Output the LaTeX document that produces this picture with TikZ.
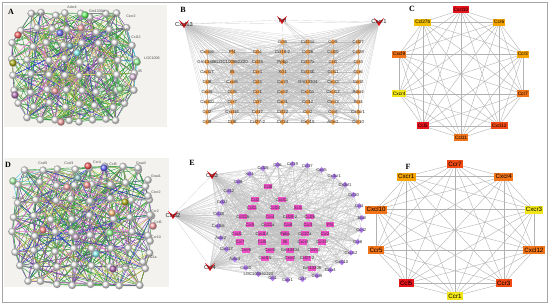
\documentclass[tikz,border=0pt]{standalone}
\usepackage{fontspec}
\setmainfont{Liberation Serif}
\newfontfamily\sansf{Liberation Sans}
\usetikzlibrary{shapes.geometric}

\pgfdeclarelayer{back}
\pgfdeclarelayer{edges}
\pgfsetlayers{back,edges,main}

\definecolor{strbg}{HTML}{F3F2EE}
\definecolor{sgreenc}{HTML}{2E9A3A}
\definecolor{spurplec}{HTML}{7A3CA8}
\definecolor{solivec}{HTML}{A8A83A}
\definecolor{spinkc}{HTML}{E27BC8}
\definecolor{sbluec}{HTML}{2838C8}
\definecolor{scyanc}{HTML}{46C8E6}
\definecolor{syellowc}{HTML}{E2E06A}
\definecolor{bnodec}{HTML}{F7A552}
\definecolor{epurple}{HTML}{B27CF2}
\definecolor{epink}{HTML}{F04FC8}
\definecolor{hubred}{HTML}{E0161E}
\definecolor{kred}{HTML}{E8141C}
\definecolor{kredor}{HTML}{F04A12}
\definecolor{korange}{HTML}{F27418}
\definecolor{kamber}{HTML}{F5A300}
\definecolor{kgold}{HTML}{F2BE00}
\definecolor{kyellow}{HTML}{F2E61A}

\tikzset{
  plet/.style={font=\bfseries\fontsize{8}{9}\selectfont, inner sep=0pt},
  sball/.style={circle, draw=gray!60, line width=0.2pt, ball color=#1, minimum size=7.5pt, inner sep=0pt},
  sball/.default={gray!6},
  slbl/.style={font=\sansf\fontsize{3.6}{4}\selectfont, text=black!70, inner sep=0pt},
  sgreen/.style={draw=sgreenc, line width=0.4pt},
  spurple/.style={draw=spurplec, line width=0.4pt},
  solive/.style={draw=solivec, line width=0.4pt},
  spink/.style={draw=spinkc, line width=0.4pt},
  sblue/.style={draw=sbluec, line width=0.4pt},
  scyan/.style={draw=scyanc, line width=0.4pt},
  syellow/.style={draw=syellowc, line width=0.4pt},
  hub/.style={rectangle, minimum width=10pt, minimum height=8pt, inner sep=0pt},
  hubtext/.style={font=\sansf\fontsize{5.8}{6}\selectfont, inner sep=0pt, text=black!85},
  bnode/.style={diamond, fill=bnodec, minimum size=6pt, inner sep=0pt},
  btext/.style={font=\sansf\fontsize{4.4}{5}\selectfont, inner sep=0pt, text=black!80},
  bedge/.style={draw=gray!50, line width=0.14pt},
  eouter/.style={diamond, fill=epurple, minimum size=6pt, inner sep=0pt},
  einner/.style={rectangle, fill=epink, minimum width=8pt, minimum height=5pt, inner sep=0pt},
  etext/.style={font=\sansf\fontsize{4.2}{5}\selectfont, inner sep=0pt, text=black!80},
  kbox/.style={rectangle, inner xsep=1pt, inner ysep=0.9pt, minimum height=7pt, text=black, font=\sansf\fontsize{4.8}{5}\selectfont},
  kboxF/.style={rectangle, inner xsep=1.2pt, inner ysep=1pt, minimum height=8pt, text=black, font=\sansf\fontsize{6.2}{7}\selectfont},
  kedge/.style={draw=gray!60, line width=0.4pt},
}

\begin{document}
\begin{tikzpicture}[x=1pt,y=-1pt]
\useasboundingbox (0,0) rectangle (550,305);
\draw[gray!70,line width=0.9pt] (2.5,2.5) rectangle (547.5,302);

\begin{pgfonlayer}{back}
\fill[strbg] (4,5) rectangle (167,127);
\fill[strbg] (4,158) rectangle (169,287);
\end{pgfonlayer}

% panel letters
\node[plet] (pA) at (11,12) {A};
\node[plet] (pB) at (183,10) {B};
\node[plet] (pC) at (412,9) {C};
\node[plet] (pD) at (8,165) {D};
\node[plet] (pE) at (192,163) {E};
\node[plet] (pF) at (408,167) {F};

%%%%%%%%%% A : string network
\pgfmathsetseed{17}
\foreach \r in {0,...,7}
  \foreach \c in {0,...,7}{
    \pgfmathsetmacro\px{73+(\c-3.5)*17.5*sqrt(1-((\r-3.5)/5)^2)+2.5*rand}
    \pgfmathsetmacro\py{15+\r*15+2.5*rand}
    \node[sball] (a-\r-\c) at (\px,\py) {};
  }
\foreach \x/\y/\col [count=\k] in {18/35/red!60,60/33/blue!55,85/15/green!60,70/46/teal!50,
    77/53/cyan!45,13/63/olive!60,15/95/violet!55,55/91/red!35,81/28/red!30,
    120/89/green!35,137/62/green!40,133/77/violet!25,61/122/red!35}
  \node[sball=\col] (ac\k) at (\x,\y) {};
\foreach \x/\y/\lab [count=\k] in {72/7/Ackr4,97/11/Gm13304,39/14/Cxcl10,113/16/Ccl8,
    131/16/Cxcr2,122/29/Ccl21a,136/37/Ccl12,125/52/Ccl7,152/58/LOC1008,140/71/Il5,
    124/86/Ccl28,119/101/Cxcl14,25/89/Gm13306,69/117/Ccl27-2}
  \node[slbl] (al\k) at (\x,\y) {\lab};

\begin{pgfonlayer}{edges}
\foreach \r in {0,...,7}
  \foreach \c in {0,...,7}{
    \pgfmathtruncatemacro\rn{\r+1}
    \pgfmathtruncatemacro\rnn{\r+2}
    \pgfmathtruncatemacro\cn{\c+1}
    \pgfmathtruncatemacro\cp{\c-1}
    \ifnum\c<7 \draw[sgreen] (a-\r-\c.center) -- (a-\r-\cn.center); \fi
    \ifnum\r<7
      \draw[spurple] (a-\r-\c.center) -- (a-\rn-\c.center);
      \ifnum\c<7 \draw[solive] (a-\r-\c.center) -- (a-\rn-\cn.center); \fi
      \ifnum\c>0 \draw[sgreen] (a-\r-\c.center) -- (a-\rn-\cp.center); \fi
    \fi
    \ifnum\r<6
      \draw[sgreen] (a-\r-\c.center) -- (a-\rnn-\c.center);
      \ifnum\c<7 \draw[sgreen] (a-\r-\c.center) -- (a-\rnn-\cn.center); \fi
    \fi
  }
\foreach \sty/\num in {sgreen/150,spurple/50,spink/35,solive/30,sblue/14,syellow/15}
  \foreach \k in {1,...,\num}{
    \pgfmathtruncatemacro\ra{random(0,7)}
    \pgfmathtruncatemacro\ca{random(0,7)}
    \pgfmathtruncatemacro\rb{random(0,7)}
    \pgfmathtruncatemacro\cb{random(0,7)}
    \draw[\sty] (a-\ra-\ca.center) -- (a-\rb-\cb.center);
  }
\foreach \n in {a-1-7,a-2-7,a-3-7,a-4-7,a-5-7,a-3-6,a-2-6}
  \draw[scyan] (ac11.center) -- (\n.center);
\foreach \n in {a-3-7,a-4-7,a-5-7,a-6-6}
  \draw[syellow] (ac12.center) -- (\n.center);
\end{pgfonlayer}

%%%%%%%%%% D : string network
\pgfmathsetseed{29}
\foreach \r in {0,...,7}
  \foreach \c in {0,...,7}{
    \pgfmathsetmacro\px{82+(\c-3.5)*19.5*sqrt(1-((\r-3.5)/6)^2)+2.5*rand}
    \pgfmathsetmacro\py{168+\r*16.5+2.5*rand}
    \node[sball] (d-\r-\c) at (\px,\py) {};
  }
\foreach \x/\y/\col [count=\k] in {88/166/red!65,104/168/blue!60,13/181/green!30,78/178/teal!40,
    87/185/red!40,67/187/red!30,125/202/olive!60,112/213/orange!50,43/230/red!45,
    110/233/green!40,76/237/violet!30,96/254/cyan!45,113/269/violet!60,153/226/red!35}
  \node[sball=\col] (dc\k) at (\x,\y) {};
\foreach \x/\y [count=\k] in {138/168,148/180,148/196,150/215,150/241,143/262}
  \node[sball] (dx\k) at (\x,\y) {};
\foreach \x/\y/\lab [count=\k] in {43/163/Cxcl5,69/163/Cxcl3,97/162/Ccr4,113/164/Ccl8,
    141/163/Gnai3,156/176/Gnai1,156/192/Cxcr2,155/211/Ccr2,158/222/Ccl6,156/237/Ccr10,
    151/257/Ccl21a,29/177/LOC1008,18/198/Cxcl11,121/266/Gm13304,131/275/Ackr4}
  \node[slbl] (dl\k) at (\x,\y) {\lab};

\begin{pgfonlayer}{edges}
\foreach \r in {0,...,7}
  \foreach \c in {0,...,7}{
    \pgfmathtruncatemacro\rn{\r+1}
    \pgfmathtruncatemacro\rnn{\r+2}
    \pgfmathtruncatemacro\cn{\c+1}
    \pgfmathtruncatemacro\cp{\c-1}
    \ifnum\c<7 \draw[sgreen] (d-\r-\c.center) -- (d-\r-\cn.center); \fi
    \ifnum\r<7
      \draw[spurple] (d-\r-\c.center) -- (d-\rn-\c.center);
      \ifnum\c<7 \draw[sgreen] (d-\r-\c.center) -- (d-\rn-\cn.center); \fi
      \ifnum\c>0 \draw[solive] (d-\r-\c.center) -- (d-\rn-\cp.center); \fi
    \fi
    \ifnum\r<6
      \draw[sgreen] (d-\r-\c.center) -- (d-\rnn-\c.center);
      \ifnum\c>0 \draw[spurple] (d-\r-\c.center) -- (d-\rnn-\cp.center); \fi
    \fi
  }
\foreach \sty/\num in {sgreen/160,spurple/55,spink/35,solive/25,sblue/18,syellow/12}
  \foreach \k in {1,...,\num}{
    \pgfmathtruncatemacro\ra{random(0,7)}
    \pgfmathtruncatemacro\ca{random(0,7)}
    \pgfmathtruncatemacro\rb{random(0,7)}
    \pgfmathtruncatemacro\cb{random(0,7)}
    \draw[\sty] (d-\ra-\ca.center) -- (d-\rb-\cb.center);
  }
\foreach \n in {d-0-0,d-1-0,d-0-1,d-1-1,d-2-0,d-2-1}
  \draw[scyan] (dc3.center) -- (\n.center);
\foreach \k/\r in {1/0,2/1,3/1,4/3,5/4,6/5}{
  \draw[spurple] (dx\k.center) -- (d-\r-7.center);
  \draw[sblue] (dx\k.center) -- (d-\r-6.center);
  \draw[sgreen] (dx\k.center) -- (d-\r-5.center);
}
\end{pgfonlayer}

%%%%%%%%%% B : hub network
\node[hub, label={[hubtext]center:Cxcl13}] (bh1) at (184,24) {};
\node[hub, label={[hubtext]center:Tnf}] (bh2) at (282,20) {};
\node[hub, label={[hubtext]center:Cxcr1}] (bh3) at (379,22) {};
\foreach \lab [count=\k] in {Ccl5,Ccl21a,Ccr9,Ccl27}
  \node[bnode, label={[btext]center:\lab}] (b\k) at ({207+25.2*(\k+2)},42) {};
\foreach \r/\row in {
    1/{Cxcl16,Pf4,Ccl4,Ccl19-2,Ccl26,Ccl20,Ccl28},
    2/{Gm13306,LOC100862220,Ccl25,Ppbp,Ccl27a,Ccl1,Ccr3},
    3/{Cxcl17,Il5,Ccr4,Xcl1,Ccl21b,Ccl11,Ccr6},
    4/{Ccl8,Cxcr6,Ccl3,Cxcl3,Gm13304,Cxcr2,Ccrl2},
    5/{Cxcl5,Ccr5,Ccr1,Cxcl2,Cxcl11,Cxcl12,Ackr4},
    6/{Cxcl10,Ccr7,Ccl7,Cxcl1,Ccl12,Cxcr3,Xcr1},
    7/{Ccl2,Cxcl14,Ccl17,Ccl22,Ccr2,Ccr8,Cx3cr1},
    8/{Ccl9,Ccl6,Ccl27-2,Ccl24,Cxcl15,Ackr2,Ccr10}}
  \foreach \lab [count=\c] in \row {
    \pgfmathtruncatemacro\k{4+(\r-1)*7+\c}
    \node[bnode, label={[btext]center:\lab}] (b\k) at ({207+25.2*(\c-1)},{42+10*\r}) {};
  }

\begin{pgfonlayer}{edges}
\pgfmathsetseed{5}
\foreach \i in {1,...,60}{
  \draw[bedge] (bh1.center) -- (b\i.center);
  \draw[bedge] (bh3.center) -- (b\i.center);
  \foreach \m in {1,...,10}{
    \pgfmathtruncatemacro\j{random(1,60)}
    \draw[bedge] (b\i.center) -- (b\j.center);
  }
}
\foreach \n in {b1,b2,b9,b10,b17,b24}
  \draw[bedge] (bh2.center) -- (\n.center);
\draw[bedge] (bh1.center) -- (bh2.center) -- (bh3.center);
\draw[bedge] (bh1.center) -- (bh3.center);
\end{pgfonlayer}

%%%%%%%%%% E : hub network
\node[hub, label={[hubtext]center:Ccl3}] (eh1) at (212,175) {};
\node[hub, label={[hubtext]center:Cxcl2}] (eh2) at (173,215) {};
\node[hub, label={[hubtext]center:Ccl4}] (eh3) at (210,267) {};
\foreach \lab [count=\k] in {Ccl6,Ccl19,Ccl17,Cxcl5,Cx3cr1,Cx3cl1,Ccl20,Ccr1,Ebi3,Ccrl2,
    Ccr8,Cxcl12,Cxcl10,Cxcr4,Cxcl9,Ccl7,Cxcr1,Ccl1,LOC100862220,Cxcl3,Ackr4,Cxcl17,
    Ackr2,Cxcl16,Ccl28,Ccl22,Ccl12,Ccl9,Xcr1,Ccl25}
  \node[eouter, label={[etext]center:\lab}] (e\k)
    at ({290+72*cos(100-12*(\k-1))},{222-58*sin(100-12*(\k-1))}) {};
\foreach \x/\y/\lab [count=\k] in {268/187/Ccl8,
    255/200/Ccl2,282/200/Cxcl11,
    252/208/Ccl11,275/208/Ccl24,298/208/Xcl1,
    243/217/Ccl21b,270/217/Ccr4,290/217/Ccl19-2,310/217/Ccl26,
    250/225/Ccr5,268/225/Ccl21a,288/225/Ccr6,308/225/Ccr3,330/225/Pf4,
    237/234/Cxcl1,262/234/Cxcl14,285/234/Ppbp,305/234/Ccl27a,325/234/Ccr2,
    240/242/Ccr7,262/242/Ccl5,285/242/Il5,303/242/Cxcr3,322/242/Ccr10,
    246/250/Cxcr6,270/250/Cxcr5,290/250/Gm13304,314/250/Ccl21c,
    265/258/Cxcl15,290/258/Cxcr2,307/258/Ccl27-2,
    312/268/Gm13306}{
  \pgfmathtruncatemacro\n{30+\k}
  \node[einner, label={[etext]center:\lab}] (e\n) at (\x,\y) {};
}

\begin{pgfonlayer}{edges}
\pgfmathsetseed{9}
\foreach \i in {1,...,63}{
  \draw[bedge] (eh1.center) -- (e\i.center);
  \draw[bedge] (eh2.center) -- (e\i.center);
  \draw[bedge] (eh3.center) -- (e\i.center);
  \foreach \m in {1,...,10}{
    \pgfmathtruncatemacro\j{random(1,63)}
    \draw[bedge] (e\i.center) -- (e\j.center);
  }
}
\draw[bedge] (eh1.center) -- (eh2.center) -- (eh3.center);
% red V marks of the hubs
\foreach \h in {bh1,bh2,bh3,eh1,eh2,eh3}
  \fill[hubred] (\h.north west) -- (\h.center) -- (\h.north east) -- (\h.south) -- cycle;
\end{pgfonlayer}

%%%%%%%%%% C : top ten
\foreach \lab/\col [count=\k] in {Cxcl10/kred,Ccr6/kamber,Ccr3/kamber,Ccr7/korange,
    Cxcl12/kredor,Ccl11/korange,Ccl5/kred,Cxcr4/kyellow,Cxcl9/korange,Ccl27b/kgold}
  \node[kbox, fill=\col] (c\k) at ({461+65*cos(90-36*(\k-1))},{74-64*sin(90-36*(\k-1))}) {\lab};

%%%%%%%%%% F : top ten
\foreach \lab/\col [count=\k] in {Ccr7/kredor,Cxcr4/korange,Cxcr3/kyellow,Cxcl12/korange,
    Ccr3/kredor,Ccr1/kyellow,Ccl5/kred,Ccr5/korange,Cxcl10/korange,Cxcr1/kamber}
  \node[kboxF, fill=\col] (f\k) at ({455+83*cos(90-36*(\k-1))},{230-66*sin(90-36*(\k-1))}) {\lab};

\begin{pgfonlayer}{edges}
\foreach \i in {1,...,9}{
  \pgfmathtruncatemacro\ii{\i+1}
  \foreach \j in {\ii,...,10}{
    \draw[kedge] (c\i.center) -- (c\j.center);
    \draw[kedge] (f\i.center) -- (f\j.center);
  }
}
\end{pgfonlayer}
\end{tikzpicture}
\end{document}
